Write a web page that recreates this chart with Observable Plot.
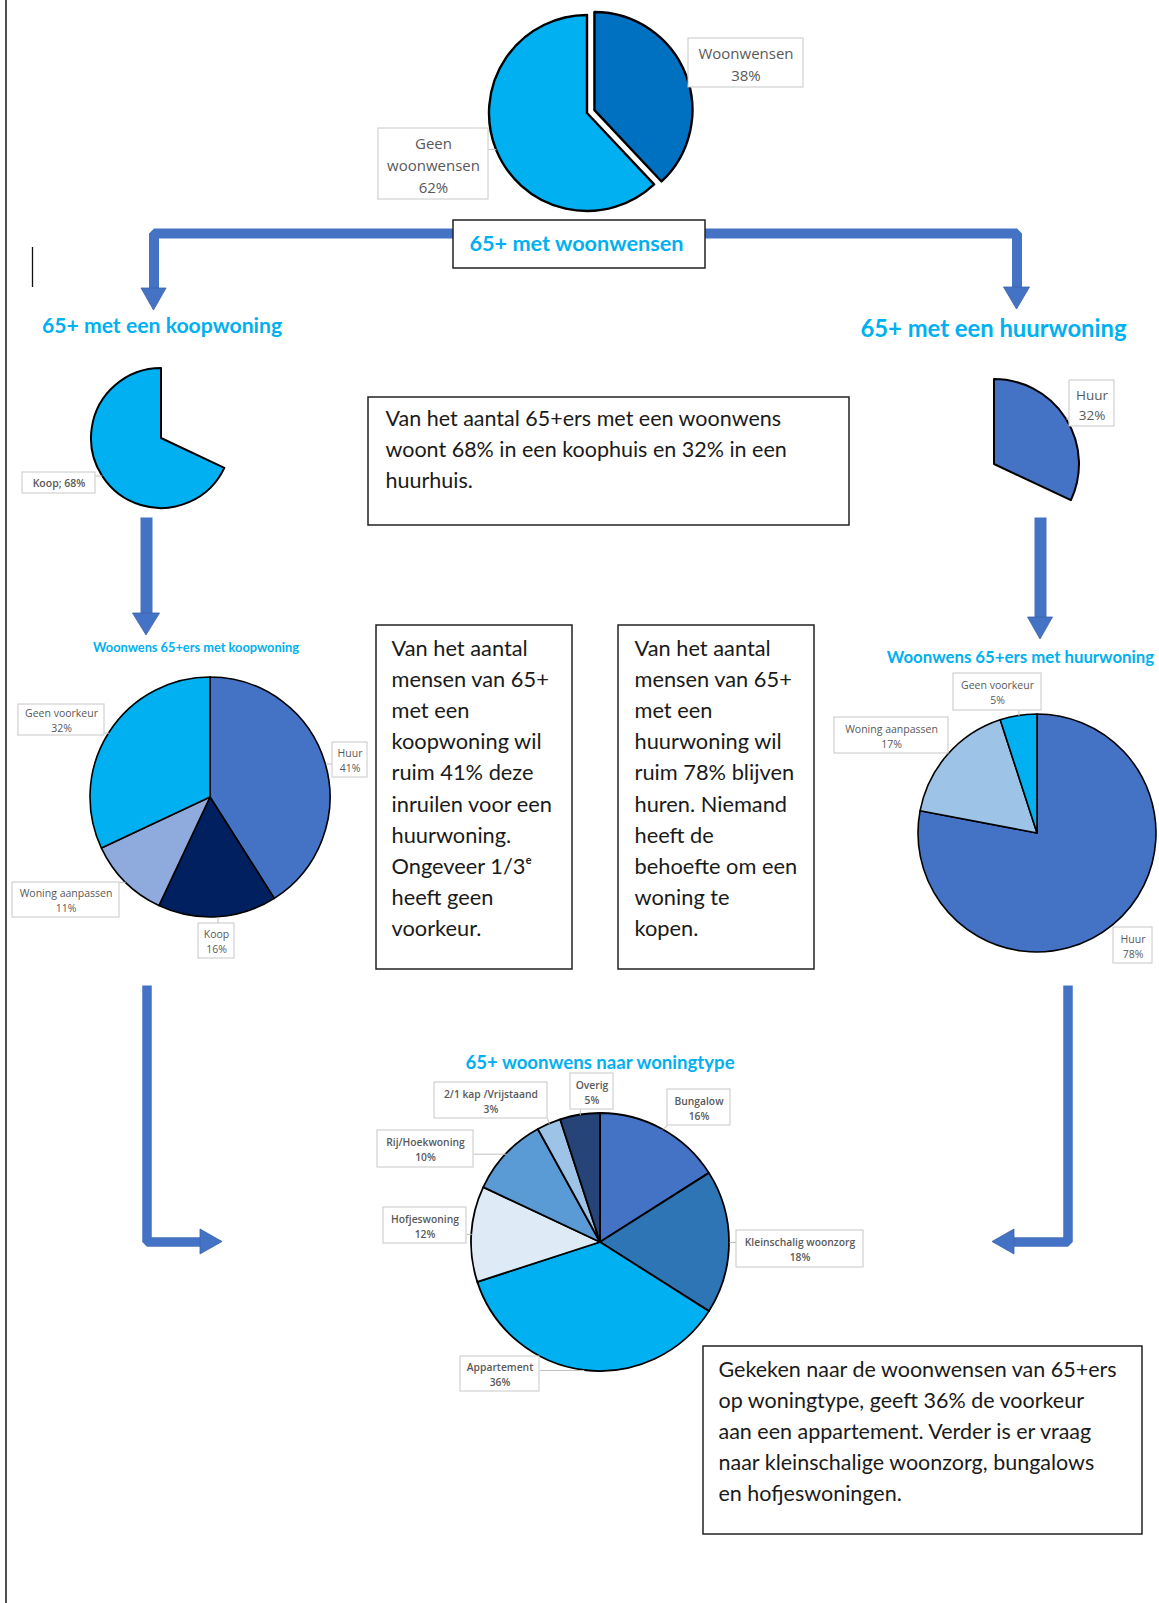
<!DOCTYPE html>
<html><head><meta charset="utf-8">
<script src="https://cdn.jsdelivr.net/npm/d3@7"></script>
<script src="https://cdn.jsdelivr.net/npm/@observablehq/plot@0.6"></script>
<style>body{margin:0;background:#fff} #chart svg{display:block}</style>
</head><body><div id="chart"></div>
<script>
// ---------------- DATA ----------------
const wishCats = ["Woonwensen", "Geen woonwensen"];
const wishVals = [38, 62];
const tenureCats = ["Huur", "Koop"];
const tenureVals = [32, 68];
const koopCats = ["Huur", "Koop", "Woning aanpassen", "Geen voorkeur"];
const koopVals = [41, 16, 11, 32];
const huurCats = ["Huur", "Woning aanpassen", "Geen voorkeur"];
const huurVals = [78, 17, 5];
const typeCats = ["Bungalow", "Kleinschalig woonzorg", "Appartement", "Hofjeswoning", "Rij/Hoekwoning", "2/1 kap /Vrijstaand", "Overig"];
const typeVals = [16, 18, 36, 12, 10, 3, 5];

const titleMain = "65+ met woonwensen";
const titleKoop = "65+ met een koopwoning";
const titleHuur = "65+ met een huurwoning";
const titleKoopPie = "Woonwens 65+ers met koopwoning";
const titleHuurPie = "Woonwens 65+ers met huurwoning";
const titleType = "65+ woonwens naar woningtype";
const textTenure = ["Van het aantal 65+ers met een woonwens", "woont 68% in een koophuis en 32% in een", "huurhuis."];
const textKoop = ["Van het aantal", "mensen van 65+", "met een", "koopwoning wil", "ruim 41% deze", "inruilen voor een", "huurwoning.", "Ongeveer 1/3ᵉ", "heeft geen", "voorkeur."];
const textHuur = ["Van het aantal", "mensen van 65+", "met een", "huurwoning wil", "ruim 78% blijven", "huren. Niemand", "heeft de", "behoefte om een", "woning te", "kopen."];
const textType = ["Gekeken naar de woonwensen van 65+ers", "op woningtype, geeft 36% de voorkeur", "aan een appartement. Verder is er vraag", "naar kleinschalige woonzorg, bungalows", "en hofjeswoningen."];

// ---------------- LAYOUT / STYLE ----------------
const W = 1159, H = 1603;
const BLUE = "#00b0f0", ARROW = "#4472c4";
const FONT = "Lato, 'Open Sans', sans-serif";

const pies = [
  {cats: wishCats, vals: wishVals, cx: 587, cy: 113, r: 98, sw: 2.4,
   colors: ["#0070c0", "#00b0f0"], explode: {"Woonwensen": 8},
   boxes: {"Woonwensen": [688, 38, 803, 87], "Geen woonwensen": [378, 128, 488, 199]},
   fmt: (c, v) => `${c.replace(" ", "\n")}\n${v}%`, fs: 15, fw: 400, lh: 1.45, font: "'Open Sans', sans-serif"},
  {cats: tenureCats, vals: tenureVals, cx: 161, cy: 438, r: 70, sw: 2,
   colors: [null, "#00b0f0"],
   boxes: {"Koop": [22, 472, 95, 493]},
   fmt: (c, v) => `${c}; ${v}%`, fs: 10.5, fw: 600, lh: 1.3, font: "'Open Sans', sans-serif"},
  {cats: tenureCats, vals: tenureVals, cx: 994, cy: 464, r: 85, sw: 2,
   colors: ["#4472c4", null],
   boxes: {"Huur": [1069, 380, 1114, 426]},
   fmt: (c, v) => `${c}\n${v}%`, fs: 13.5, fw: 400, lh: 1.45, font: "'Open Sans', sans-serif"},
  {cats: koopCats, vals: koopVals, cx: 210, cy: 797, r: 120, sw: 1.6,
   colors: ["#4472c4", "#002060", "#8faadc", "#00b0f0"],
   boxes: {"Huur": [332, 742, 367, 777], "Koop": [198, 923, 234, 958], "Woning aanpassen": [12, 882, 119, 917], "Geen voorkeur": [18, 704, 104, 735]},
   fmt: (c, v) => `${c}\n${v}%`, fs: 10.5, fw: 400, lh: 1.45, font: "'Open Sans', sans-serif"},
  {cats: huurCats, vals: huurVals, cx: 1037, cy: 833, r: 119, sw: 1.6,
   colors: ["#4472c4", "#9dc3e6", "#00b0f0"],
   boxes: {"Huur": [1113, 927, 1152, 963], "Woning aanpassen": [834, 717, 948, 753], "Geen voorkeur": [953, 673, 1041, 710]},
   fmt: (c, v) => `${c}\n${v}%`, fs: 10.5, fw: 400, lh: 1.45, font: "'Open Sans', sans-serif"},
  {cats: typeCats, vals: typeVals, cx: 600, cy: 1242, r: 129, sw: 1.8,
   colors: ["#4472c4", "#2e75b6", "#00b0f0", "#deebf7", "#5b9bd5", "#9dc3e6", "#264478"],
   boxes: {"Bungalow": [667, 1089, 730, 1125], "Kleinschalig woonzorg": [736, 1230, 863, 1267], "Appartement": [460, 1356, 539, 1391],
           "Hofjeswoning": [383, 1207, 466, 1243], "Rij/Hoekwoning": [377, 1130, 473, 1167], "2/1 kap /Vrijstaand": [434, 1082, 547, 1118], "Overig": [570, 1073, 613, 1109]},
   fmt: (c, v) => `${c}\n${v}%`, fs: 10.3, fw: 600, lh: 1.45, font: "'Open Sans', sans-serif"}
];

// arrows: shafts (polyline) and heads (tip + direction)
const shafts = [
  {id: "top", pts: [[153.5, 289], [153.5, 233], [1016.5, 233], [1016.5, 288]], w: 10},
  {id: "ml", pts: [[146, 517], [146, 614]], w: 12},
  {id: "mr", pts: [[1040, 517], [1040, 618]], w: 12},
  {id: "bl", pts: [[146.5, 985], [146.5, 1241.5], [201, 1241.5]], w: 9.5},
  {id: "br", pts: [[1067.5, 985], [1067.5, 1241.5], [1012, 1241.5]], w: 9.5}
];
const heads = [
  {tip: [153.5, 310], dir: "down", w: 25, l: 22},
  {tip: [1016.5, 309], dir: "down", w: 26, l: 22},
  {tip: [146, 635], dir: "down", w: 27, l: 22},
  {tip: [1040, 639], dir: "down", w: 25, l: 22},
  {tip: [222, 1241.5], dir: "right", w: 25, l: 22},
  {tip: [992, 1241.5], dir: "left", w: 25, l: 22}
];

// ---------------- HELPERS ----------------
function getScales(args) {
  const sc = args.find(a => a && typeof a === "object" && typeof a.x === "function" && typeof a.y === "function");
  return sc ? [sc.x, sc.y] : [v => v, v => v];
}
function pieMark(p) {
  return (...args) => {
    const [X, Y] = getScales(args);
    const cx = X(p.cx), cy = Y(p.cy), r = X(p.cx + p.r) - X(p.cx);
    const data = p.cats.map((c, i) => ({cat: c, value: p.vals[i]}));
    const arcs = d3.pie().sort(null).value(d => d.value)(data);
    const arc = d3.arc().innerRadius(0).outerRadius(r);
    const g = d3.create("svg:g").attr("transform", `translate(${cx},${cy})`);
    arcs.forEach((a, i) => {
      if (!p.colors[i]) return;
      let dx = 0, dy = 0;
      const o = p.explode && p.explode[a.data.cat];
      if (o) { const m = (a.startAngle + a.endAngle) / 2; dx = o * Math.sin(m); dy = -o * Math.cos(m); }
      g.append("path").attr("d", arc(a)).attr("transform", `translate(${dx},${dy})`)
        .attr("fill", p.colors[i]).attr("stroke", "#000").attr("stroke-width", p.sw).attr("stroke-linejoin", "round");
    });
    return g.node();
  };
}
function headsMark(list) {
  return (...args) => {
    const [X, Y] = getScales(args);
    const g = d3.create("svg:g");
    list.forEach(h => {
      const [tx, ty] = h.tip, hw = h.w / 2, l = h.l;
      let pts;
      if (h.dir === "down") pts = [[tx, ty], [tx - hw, ty - l], [tx + hw, ty - l]];
      else if (h.dir === "right") pts = [[tx, ty], [tx - l, ty - hw], [tx - l, ty + hw]];
      else pts = [[tx, ty], [tx + l, ty - hw], [tx + l, ty + hw]];
      g.append("path").attr("d", "M" + pts.map(([x, y]) => `${X(x)},${Y(y)}`).join("L") + "Z")
        .attr("fill", ARROW).attr("stroke", "#3a62aa").attr("stroke-width", 0.8).attr("stroke-linejoin", "miter");
    });
    return g.node();
  };
}

// label boxes + leader lines computed from pie data
const labelBoxes = [], labelTexts = [], leaders = [];
pies.forEach(p => {
  const arcs = d3.pie().sort(null).value(d => d)(p.vals);
  arcs.forEach((a, i) => {
    const c = p.cats[i], b = p.boxes[c];
    if (!b) return;
    const [x1, y1, x2, y2] = b;
    labelBoxes.push({x1, y1, x2, y2});
    labelTexts.push({x: (x1 + x2) / 2, y: (y1 + y2) / 2, t: p.fmt(c, p.vals[i]), fs: p.fs, fw: p.fw, lh: p.lh, font: p.font});
    const m = (a.startAngle + a.endAngle) / 2;
    const rr = p.r + ((p.explode && p.explode[c]) || 0);
    const ex = p.cx + rr * Math.sin(m), ey = p.cy - rr * Math.cos(m);
    const bx = Math.max(x1, Math.min(x2, ex)), by = Math.max(y1, Math.min(y2, ey));
    if (Math.hypot(ex - bx, ey - by) > 3) leaders.push({x1: bx, y1: by, x2: ex, y2: ey});
  });
});

const shaftPts = shafts.flatMap(s => s.pts.map(([x, y]) => ({id: s.id, x, y, w: s.w})));

const textBoxes = [
  {x1: 368, y1: 397, x2: 849, y2: 525},
  {x1: 376, y1: 625, x2: 572, y2: 969},
  {x1: 618, y1: 625, x2: 814, y2: 969},
  {x1: 703, y1: 1346, x2: 1142, y2: 1534},
  {x1: 453, y1: 220, x2: 705, y2: 268}
];
const bodyTexts = [
  {x: 385, y: 404, lines: textTenure, fs: 21.5, lh: 1.43},
  {x: 391, y: 633, lines: textKoop, fs: 21.8, lh: 1.43},
  {x: 634, y: 633, lines: textHuur, fs: 21.8, lh: 1.43},
  {x: 718, y: 1354, lines: textType, fs: 21.5, lh: 1.45}
];
const titles = [
  {x: 576, y: 244, t: titleMain, fs: 21.7},
  {x: 161.5, y: 326, t: titleKoop, fs: 21.2},
  {x: 993, y: 329, t: titleHuur, fs: 23.8},
  {x: 195.5, y: 647, t: titleKoopPie, fs: 12.8},
  {x: 1020, y: 657, t: titleHuurPie, fs: 16.8},
  {x: 599.5, y: 1063, t: titleType, fs: 18.6}
];

const marks = [
  Plot.ruleX([5.5], {y1: 0, y2: H, stroke: "#222", strokeWidth: 1.6}),
  Plot.ruleX([32], {y1: 247, y2: 287, stroke: "#111", strokeWidth: 1.3}),
  ...shafts.map(s => Plot.line(shaftPts.filter(d => d.id === s.id), {x: "x", y: "y", stroke: ARROW, strokeWidth: s.w, strokeLinejoin: "miter", strokeLinecap: "butt"})),
  headsMark(heads),
  ...pies.map(pieMark),
  Plot.link(leaders, {x1: "x1", y1: "y1", x2: "x2", y2: "y2", stroke: "#bfbfbf", strokeWidth: 1}),
  Plot.rect(labelBoxes, {x1: "x1", x2: "x2", y1: "y1", y2: "y2", fill: "white", stroke: "#c8c8c8", strokeWidth: 1}),
  ...labelTexts.map(d => Plot.text([d], {x: "x", y: "y", text: "t", fontSize: d.fs, fontWeight: d.fw, fontFamily: d.font, lineHeight: d.lh, fill: "#595959", textAnchor: "middle", lineAnchor: "middle"})),
  Plot.rect(textBoxes, {x1: "x1", x2: "x2", y1: "y1", y2: "y2", fill: "white", stroke: "#222", strokeWidth: 1.5}),
  ...bodyTexts.map(d => Plot.text([d], {x: "x", y: "y", text: d => d.lines.join("\n"), fontSize: d.fs, lineHeight: d.lh, fontFamily: FONT, fill: "#1a1a1a", textAnchor: "start", lineAnchor: "top"})),
  ...titles.map(d => Plot.text([d], {x: "x", y: "y", text: "t", fontSize: d.fs, fontWeight: 700, fontFamily: FONT, fill: BLUE, textAnchor: "middle", lineAnchor: "middle"}))
];

const chart = Plot.plot({
  width: W, height: H, margin: 0,
  x: {domain: [0, W], range: [0, W], axis: null},
  y: {domain: [0, H], range: [0, H], axis: null},
  style: {background: "white", fontFamily: FONT},
  marks
});
document.getElementById("chart").append(chart);
</script>
</body></html>
